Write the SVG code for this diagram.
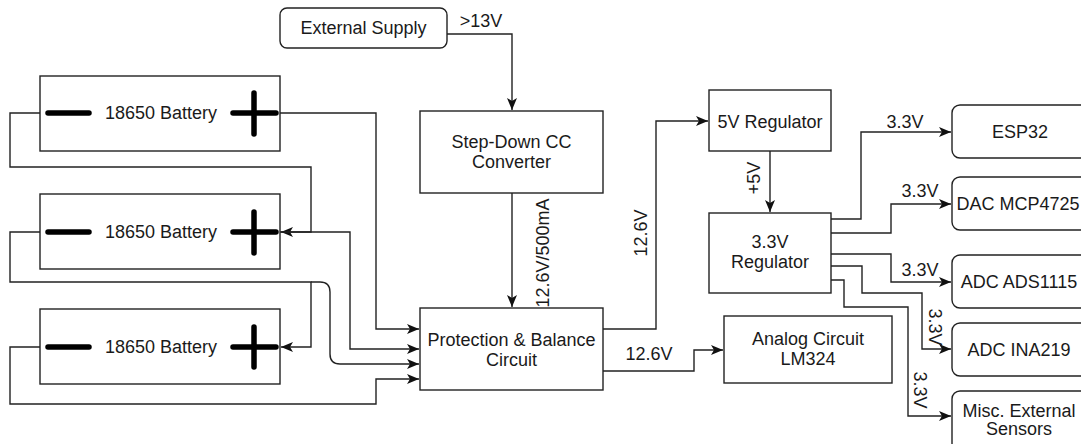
<svg xmlns="http://www.w3.org/2000/svg" width="1081" height="444" viewBox="0 0 1081 444">
<style>
.box{fill:#fff;stroke:#222;stroke-width:1.4}
.w{fill:none;stroke:#222;stroke-width:1.4}
.t{font-family:"Liberation Sans",Arial,sans-serif;font-size:18px;fill:#1a1a1a;text-anchor:middle}
.sym{stroke:#000;stroke-width:5.5;stroke-linecap:round;fill:none}
</style>
<defs>
<marker id="a" viewBox="0 0 12 10" refX="12" refY="5" markerWidth="12" markerHeight="10" markerUnits="userSpaceOnUse" orient="auto">
<path d="M0,0 L12,5 L0,10 L3,5 Z" fill="#111"/>
</marker>
</defs>
<rect width="1081" height="444" fill="#fff"/>

<g id="connectors">
<path class="w" d="M40,113 H10 V167 H311 V232 H281" marker-end="url(#a)"/>
<path class="w" d="M280,232 H350 V349 H419" marker-end="url(#a)"/>
<path class="w" d="M280,113 H376 V329 H419" marker-end="url(#a)"/>
<path class="w" d="M40,232 H10 V282 H311 V347 H281" marker-end="url(#a)"/>
<path class="w" d="M311,282 H320 Q330,282 330,292 V354 Q330,364 340,364 H419" marker-end="url(#a)"/>
<path class="w" d="M40,347 H10 V404 H376 V379 H419" marker-end="url(#a)"/>
<path class="w" d="M447,34 H512 V110" marker-end="url(#a)"/>
<path class="w" d="M512,193 V307" marker-end="url(#a)"/>
<path class="w" d="M603,329 H656 V121 H708" marker-end="url(#a)"/>
<path class="w" d="M603,371 H694 V350 H723" marker-end="url(#a)"/>
<path class="w" d="M770,151 V212" marker-end="url(#a)"/>
<path class="w" d="M831,219 H861 V132 H951" marker-end="url(#a)"/>
<path class="w" d="M831,233 H891 V204 H951" marker-end="url(#a)"/>
<path class="w" d="M831,254 H891 V282 H951" marker-end="url(#a)"/>
<path class="w" d="M831,266 H862 V293 H922 V349 H951" marker-end="url(#a)"/>
<path class="w" d="M831,280 H844 V307 H908 V416 H951" marker-end="url(#a)"/>
<text class="t" x="481" y="27">&gt;13V</text>
<text class="t" transform="translate(549,253) rotate(-90)">12.6V/500mA</text>
<text class="t" transform="translate(647,233) rotate(-90)">12.6V</text>
<text class="t" x="649" y="360">12.6V</text>
<text class="t" transform="translate(760,178) rotate(-90)">+5V</text>
<text class="t" x="905" y="128">3.3V</text>
<text class="t" x="920" y="197">3.3V</text>
<text class="t" x="920" y="276">3.3V</text>
<text class="t" transform="translate(929,327) rotate(90)">3.3V</text>
<text class="t" transform="translate(914,390) rotate(90)">3.3V</text>
</g>

<g id="battery1">
<rect class="box" x="40" y="76" width="240" height="75"/>
<line class="sym" x1="48" y1="113" x2="89" y2="113"/>
<path class="sym" d="M233,113 H276 M254,93 V134"/>
<text class="t" x="161" y="119">18650 Battery</text>
</g>
<g id="battery2">
<rect class="box" x="40" y="194" width="240" height="75"/>
<line class="sym" x1="48" y1="232" x2="89" y2="232"/>
<path class="sym" d="M233,232 H276 M254,212 V253"/>
<text class="t" x="161" y="238">18650 Battery</text>
</g>
<g id="battery3">
<rect class="box" x="40" y="309" width="240" height="75"/>
<line class="sym" x1="48" y1="347" x2="89" y2="347"/>
<path class="sym" d="M233,347 H276 M254,327 V367"/>
<text class="t" x="161" y="353">18650 Battery</text>
</g>
<g id="external-supply">
<rect class="box" x="280" y="8" width="167" height="40" rx="7"/>
<text class="t" x="363.5" y="34">External Supply</text>
</g>
<g id="step-down">
<rect class="box" x="420" y="111" width="183" height="82"/>
<text class="t" x="511.5" y="148">Step-Down CC</text>
<text class="t" x="511.5" y="168">Converter</text>
</g>
<g id="protection">
<rect class="box" x="420" y="308" width="183" height="82"/>
<text class="t" x="511.5" y="346">Protection &amp; Balance</text>
<text class="t" x="511.5" y="366">Circuit</text>
</g>
<g id="reg5v">
<rect class="box" x="709" y="90" width="122" height="61"/>
<text class="t" x="770" y="128">5V Regulator</text>
</g>
<g id="reg33v">
<rect class="box" x="709" y="213" width="122" height="80"/>
<text class="t" x="770" y="248">3.3V</text>
<text class="t" x="770" y="268">Regulator</text>
</g>
<g id="analog">
<rect class="box" x="724" y="316" width="168" height="67"/>
<text class="t" x="808" y="345">Analog Circuit</text>
<text class="t" x="808" y="365">LM324</text>
</g>
<g id="esp32">
<rect class="box" x="952" y="105" width="136" height="53" rx="8"/>
<text class="t" x="1020" y="138">ESP32</text>
</g>
<g id="dac">
<rect class="box" x="952" y="177" width="136" height="53" rx="8"/>
<text class="t" x="1018" y="210">DAC MCP4725</text>
</g>
<g id="ads1115">
<rect class="box" x="952" y="255" width="136" height="53" rx="8"/>
<text class="t" x="1019" y="288">ADC ADS1115</text>
</g>
<g id="ina219">
<rect class="box" x="952" y="323" width="136" height="53" rx="8"/>
<text class="t" x="1019" y="356">ADC INA219</text>
</g>
<g id="misc">
<rect class="box" x="952" y="391" width="136" height="60" rx="8"/>
<text class="t" x="1019" y="417">Misc. External</text>
<text class="t" x="1019" y="435">Sensors</text>
</g>
</svg>
